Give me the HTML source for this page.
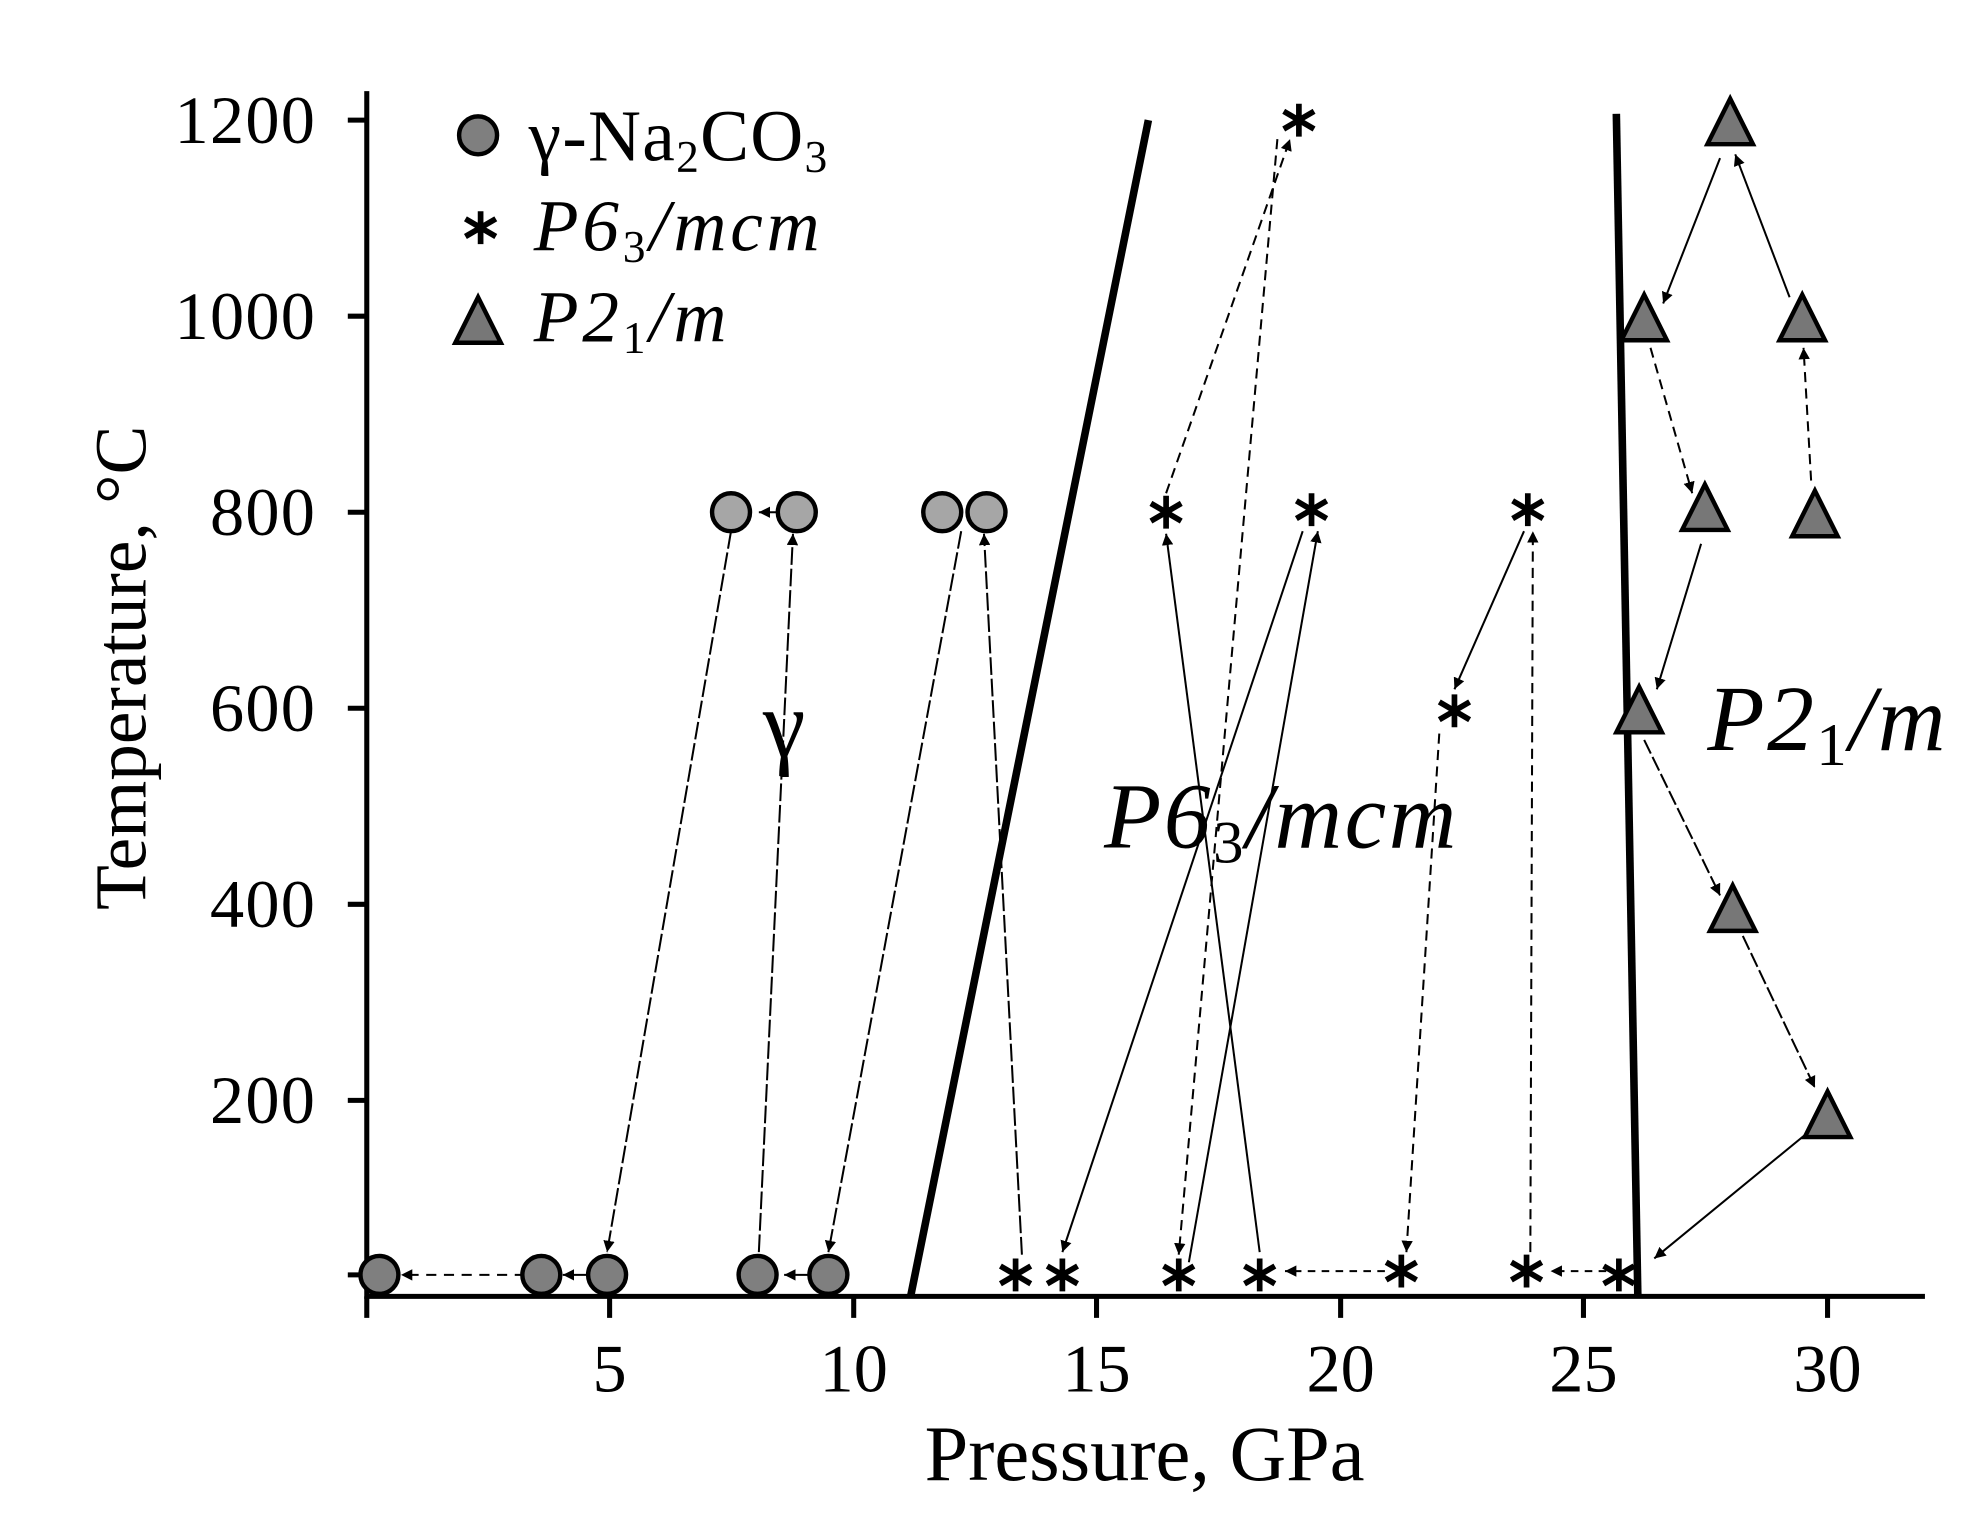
<!DOCTYPE html>
<html><head><meta charset="utf-8"><style>
html,body{margin:0;padding:0;background:#fff;}
svg{display:block;}
text{font-family:"Liberation Serif",serif;fill:#000;}
</style></head><body>
<svg width="1973" height="1519" viewBox="0 0 1560 1201" preserveAspectRatio="none" xmlns="http://www.w3.org/2000/svg">
<defs>
<marker id="ah" viewBox="0 0 10 10" refX="10" refY="5" markerWidth="9" markerHeight="9" markerUnits="userSpaceOnUse" orient="auto">
<path d="M0,0 L10,5 L0,10 z" fill="#000"/>
</marker>
<g id="st"><path d="M0,-13 V13 M-12,-7 L12,7 M-12,7 L12,-7" stroke="#000" stroke-width="4.5" fill="none"/></g>
<g id="tri"><path d="M0,-22 L18,14 L-18,14 Z" fill="#777" stroke="#000" stroke-width="3.5"/></g>
</defs>
<g stroke="#000" stroke-width="4" fill="none">
<path d="M290,72 V1025 H1522"/>
<path d="M290,1025 V1042 M482,1025 V1042 M675,1025 V1042 M867,1025 V1042 M1060,1025 V1042 M1252,1025 V1042 M1445,1025 V1042"/>
<path d="M275,95 H290 M275,250 H290 M275,405 H290 M275,560 H290 M275,715 H290 M275,870 H290 M275,1008 H290"/>
</g>
<g font-size="54" text-anchor="end" letter-spacing="1">
<text x="250" y="113">1200</text><text x="250" y="268">1000</text><text x="250" y="423">800</text>
<text x="250" y="578">600</text><text x="250" y="733">400</text><text x="250" y="888">200</text>
</g>
<g font-size="54" text-anchor="middle">
<text x="482" y="1100">5</text><text x="675" y="1100">10</text><text x="867" y="1100">15</text>
<text x="1060" y="1100">20</text><text x="1252" y="1100">25</text><text x="1445" y="1100">30</text>
</g>
<text x="905" y="1170" font-size="62" text-anchor="middle">Pressure, GPa</text>
<text transform="translate(115,528) rotate(-90)" font-size="58" text-anchor="middle">Temperature, °C</text>
<path d="M720,1025 L908,95" stroke="#000" stroke-width="6" fill="none"/>
<path d="M1278,90 L1295,1025" stroke="#000" stroke-width="6" fill="none"/>
<g stroke="#000" stroke-width="1.6" fill="none" marker-end="url(#ah)">
<path d="M415,1008 H317" stroke-dasharray="8,6"/>
<path d="M465,1008 H445"/>
<path d="M578,420 L480,990" stroke-dasharray="14,3"/>
<path d="M614,405 H600"/>
<path d="M600,990 L627,422" stroke-dasharray="14,3"/>
<path d="M640,1008 H620"/>
<path d="M760,420 L655,990" stroke-dasharray="14,3"/>
<path d="M808,992 L778,422" stroke-dasharray="14,3"/>
<path d="M1030,420 L840,990"/>
<path d="M940,998 L1042,420"/>
<path d="M996,990 L922,422"/>
<path d="M922,390 L1020,110" stroke-dasharray="8,5"/>
<path d="M1010,110 L932,992" stroke-dasharray="8,5"/>
<path d="M1095,1005 H1016" stroke-dasharray="6,5"/>
<path d="M1270,1005 H1226" stroke-dasharray="6,5"/>
<path d="M1205,420 L1150,545"/>
<path d="M1138,580 L1112,990" stroke-dasharray="8,5"/>
<path d="M1210,990 L1212,420" stroke-dasharray="8,5"/>
<path d="M1360,125 L1315,240"/>
<path d="M1415,235 L1372,122"/>
<path d="M1305,275 L1338,390" stroke-dasharray="8,5"/>
<path d="M1432,380 L1426,275" stroke-dasharray="8,5"/>
<path d="M1345,430 L1310,545"/>
<path d="M1300,585 L1360,708" stroke-dasharray="12,3"/>
<path d="M1378,740 L1435,860" stroke-dasharray="12,3"/>
<path d="M1430,895 L1308,995"/>
</g>
<g stroke="#000" stroke-width="3.5">
<g fill="#7f7f7f">
<circle cx="300" cy="1008" r="15"/><circle cx="428" cy="1008" r="15"/><circle cx="480" cy="1008" r="15"/>
<circle cx="599" cy="1008" r="15"/><circle cx="655" cy="1008" r="15"/>
<circle cx="378" cy="107" r="15"/>
</g>
<g fill="#a6a6a6">
<circle cx="578" cy="405" r="15"/><circle cx="630" cy="405" r="15"/>
<circle cx="745" cy="405" r="15"/><circle cx="780" cy="405" r="15"/>
</g>
</g>
<use href="#st" x="803" y="1008"/><use href="#st" x="840" y="1008"/><use href="#st" x="932" y="1008"/>
<use href="#st" x="996" y="1008"/><use href="#st" x="1108" y="1005"/><use href="#st" x="1207" y="1005"/>
<use href="#st" x="1280" y="1008"/><use href="#st" x="922" y="405"/><use href="#st" x="1037" y="403"/>
<use href="#st" x="1208" y="403"/><use href="#st" x="1150" y="562"/><use href="#st" x="1027" y="95"/>
<use href="#st" x="380" y="180"/>
<use href="#tri" x="1368" y="100"/><use href="#tri" x="1300" y="255"/><use href="#tri" x="1425" y="255"/>
<use href="#tri" x="1348" y="405"/><use href="#tri" x="1435" y="410"/><use href="#tri" x="1296" y="565"/>
<use href="#tri" x="1370" y="722"/><use href="#tri" x="1445" y="885"/><use href="#tri" x="378" y="257"/>
<text x="418" y="127" font-size="58" letter-spacing="1">γ-Na<tspan font-size="36" dy="9">2</tspan><tspan dy="-9">CO</tspan><tspan font-size="36" dy="9">3</tspan></text>
<text x="422" y="198" font-size="58" font-style="italic" letter-spacing="3">P6<tspan font-size="36" dy="9" font-style="normal">3</tspan><tspan dy="-9">/mcm</tspan></text>
<text x="422" y="270" font-size="58" font-style="italic" letter-spacing="3">P2<tspan font-size="36" dy="9" font-style="normal">1</tspan><tspan dy="-9">/m</tspan></text>
<text x="620" y="598" font-size="76" text-anchor="middle">γ</text>
<text x="873" y="670" font-size="74" font-style="italic" letter-spacing="2">P6<tspan font-size="48" dy="12" font-style="normal">3</tspan><tspan dy="-12">/mcm</tspan></text>
<text x="1350" y="593" font-size="74" font-style="italic" letter-spacing="2">P2<tspan font-size="48" dy="12" font-style="normal">1</tspan><tspan dy="-12">/m</tspan></text>
</svg>
</body></html>
